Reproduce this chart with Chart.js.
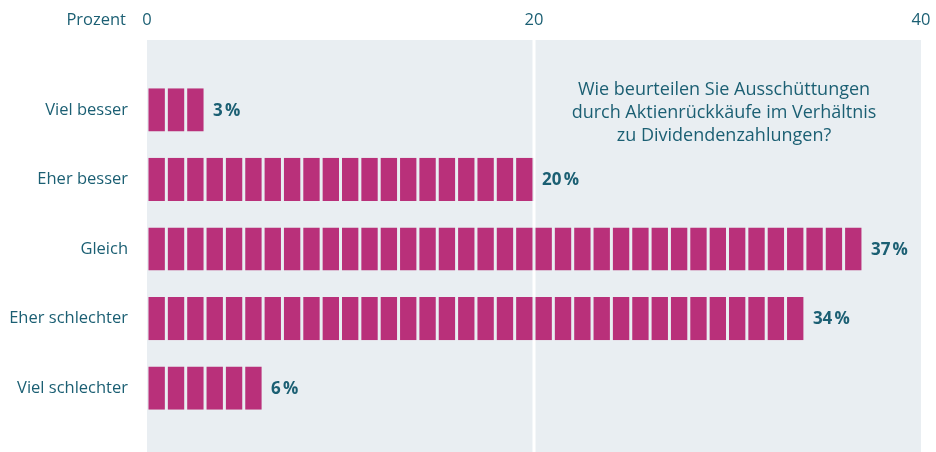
<!DOCTYPE html>
<html lang="de">
<head>
<meta charset="utf-8">
<title>Aktienrückkäufe</title>
<script src="https://cdn.jsdelivr.net/npm/chart.js@4"></script>
<style>
  html, body { margin: 0; padding: 0; background: #ffffff; }
  #wrap { width: 936px; height: 452px; position: relative; }
</style>
</head>
<body>
<div id="wrap"><canvas id="buybackChart"></canvas></div>
<script>
// Daten
const categories = ['Viel besser', 'Eher besser', 'Gleich', 'Eher schlechter', 'Viel schlechter'];
const values = [3, 20, 37, 34, 6];
const xMin = 0;
const xMax = 40;
const xStep = 20;
const axisTitle = 'Prozent';
const questionLines = [
    'Wie beurteilen Sie Ausschüttungen',
    'durch Aktienrückkäufe im Verhältnis',
    'zu Dividendenzahlungen?'
];

const teal = '#1b5f73';
const magenta = '#b9307a';
const panel = '#e9eef2';
const fontFamily = '"Open Sans", Lato, sans-serif';

document.addEventListener('DOMContentLoaded', function() {
    const canvas = document.getElementById('buybackChart');
    const ctx = canvas.getContext('2d');

    // jeder Prozentpunkt = ein Kästchen
    const maxVal = Math.max(...values);
    const datasets = [];
    for (let i = 0; i < maxVal; i++) {
        datasets.push({
            data: values.map(v => (i < v ? 1 : null)),
            backgroundColor: magenta,
            borderColor: panel,
            borderWidth: { left: 1.5, right: 1.5, top: 0, bottom: 0 },
            borderSkipped: false,
            categoryPercentage: 1,
            barPercentage: 0.62
        });
    }

    // Hintergrundfläche + weiße Linie bei 20
    const panelPlugin = {
        id: 'panel',
        beforeDraw(chart) {
            const c = chart.ctx;
            const x = chart.scales.x;
            const left = x.getPixelForValue(xMin);
            const right = x.getPixelForValue(xMax);
            c.save();
            c.fillStyle = panel;
            c.fillRect(left, 40, right - left, chart.height - 40);
            c.strokeStyle = '#ffffff';
            c.lineWidth = 3;
            const gx = x.getPixelForValue(20);
            c.beginPath();
            c.moveTo(gx, 40);
            c.lineTo(gx, chart.height);
            c.stroke();
            c.restore();
        }
    };

    // Werte, Achsentitel, Frage
    const textPlugin = {
        id: 'texts',
        afterDatasetsDraw(chart) {
            const c = chart.ctx;
            const x = chart.scales.x;
            const y = chart.scales.y;
            c.save();
            c.fillStyle = teal;
            c.textBaseline = 'middle';
            c.font = 'bold 17px ' + fontFamily;
            c.textAlign = 'left';
            values.forEach((v, i) => {
                c.fillText(v + '\u202F%', x.getPixelForValue(v) + 8, y.getPixelForValue(i) + 1);
            });

            c.font = '16.5px ' + fontFamily;
            c.textAlign = 'right';
            c.fillText(axisTitle, 126, 20);

            c.font = '18px ' + fontFamily;
            c.textAlign = 'center';
            questionLines.forEach((line, i) => {
                c.fillText(line, 724, 90 + i * 23);
            });
            c.restore();
        }
    };

    new Chart(ctx, {
        type: 'bar',
        data: { labels: categories, datasets: datasets },
        options: {
            indexAxis: 'y',
            responsive: true,
            maintainAspectRatio: false,
            animation: false,
            layout: { padding: { top: 10, right: 15, bottom: 29, left: 0 } },
            plugins: {
                legend: { display: false },
                tooltip: { enabled: false }
            },
            scales: {
                x: {
                    position: 'top',
                    stacked: true,
                    min: xMin,
                    max: xMax,
                    afterFit: function(scale) { scale.height = 65; },
                    grid: { display: false, drawTicks: true, tickLength: 45 },
                    border: { display: false },
                    ticks: {
                        stepSize: xStep,
                        padding: 0,
                        color: teal,
                        font: { family: fontFamily, size: 16.5 }
                    }
                },
                y: {
                    stacked: true,
                    afterFit: function(scale) { scale.width = 147; },
                    grid: { display: false, drawTicks: false },
                    border: { display: false },
                    ticks: {
                        padding: 19,
                        color: teal,
                        font: { family: fontFamily, size: 16.5 }
                    }
                }
            }
        },
        plugins: [panelPlugin, textPlugin]
    });
});
</script>
</body>
</html>
